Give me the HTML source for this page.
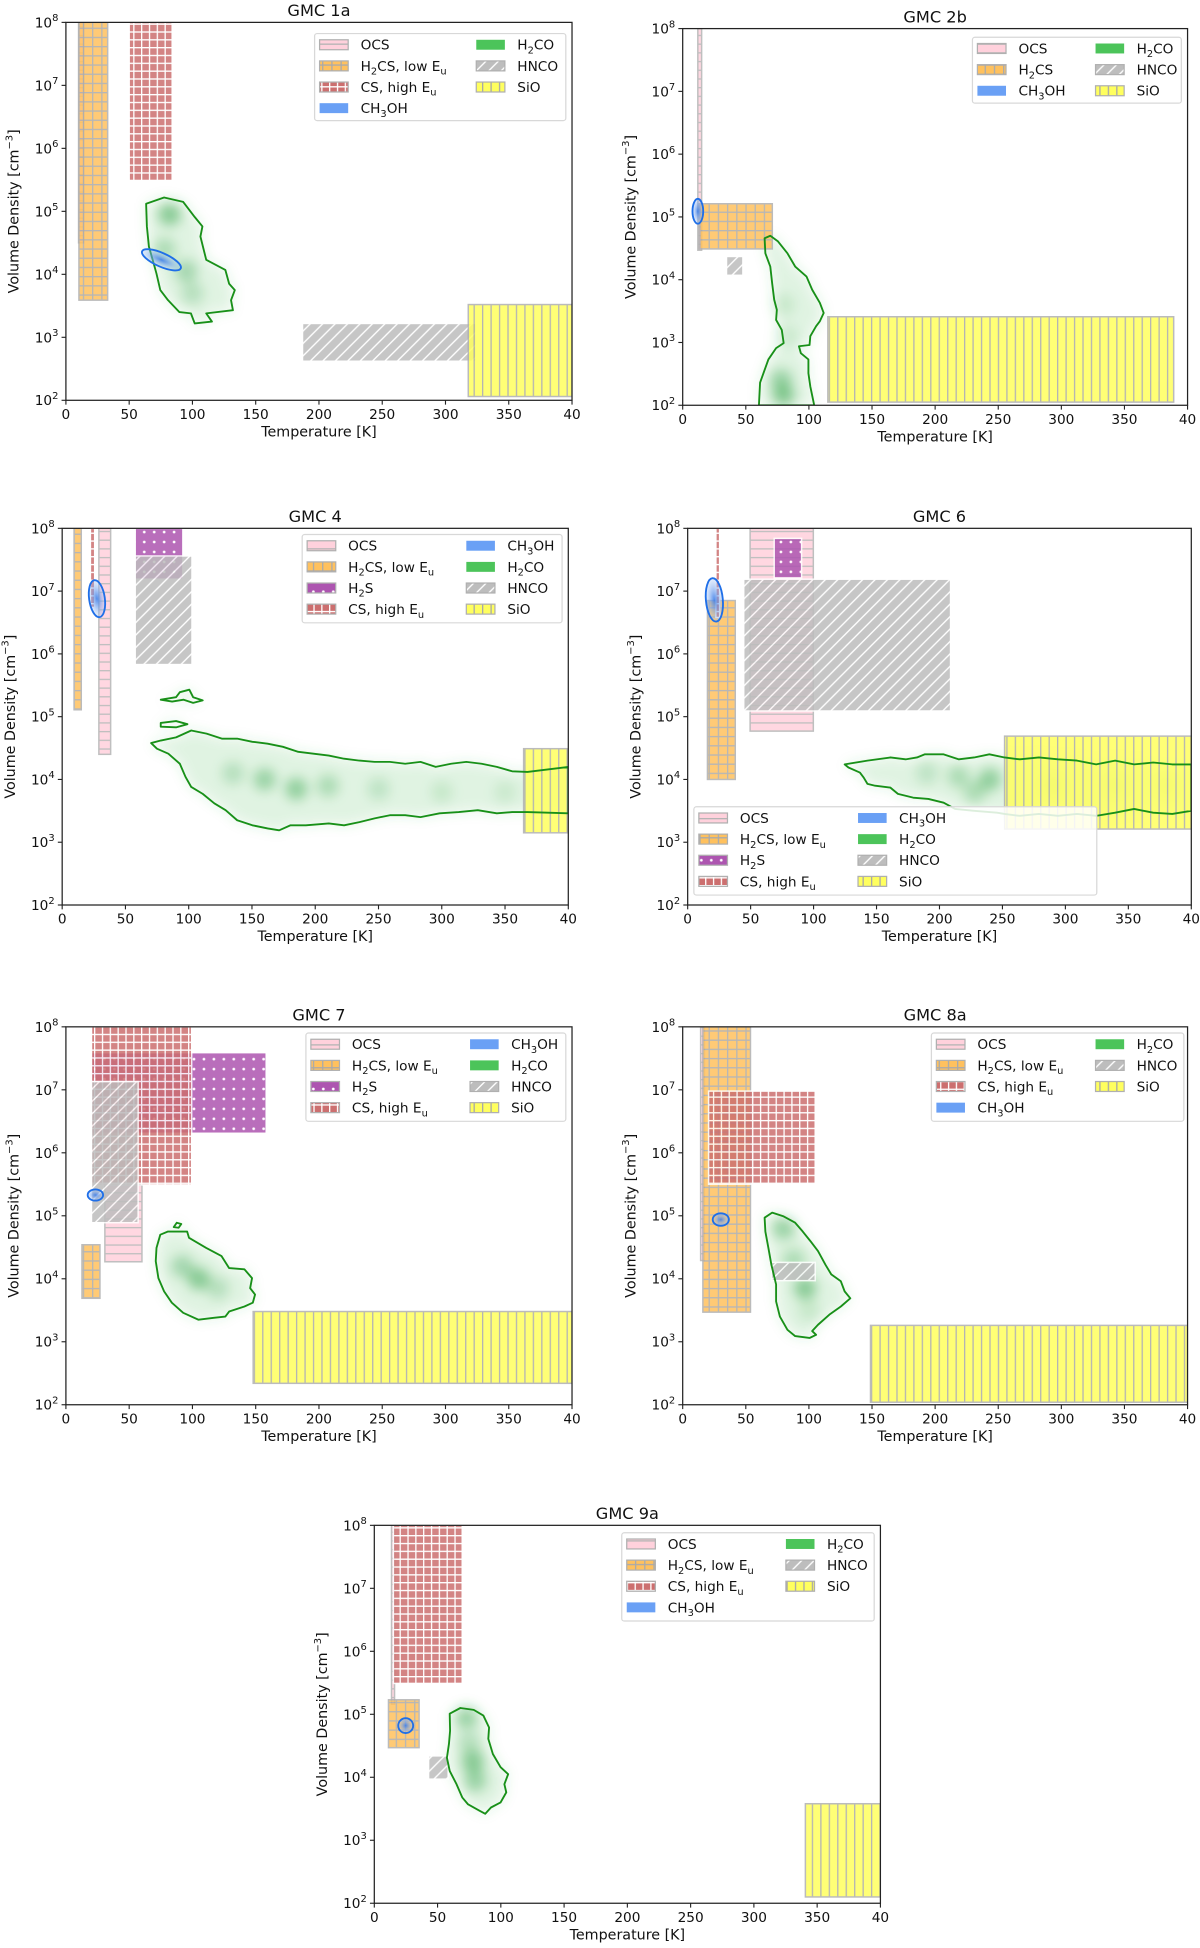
<!DOCTYPE html>
<html><head><meta charset="utf-8"><style>
html,body{margin:0;padding:0;background:#fff;}
svg{display:block;font-family:"DejaVu Sans","Liberation Sans",sans-serif;}
</style></head><body>
<svg id="fig" xmlns="http://www.w3.org/2000/svg" width="1200" height="1948" viewBox="0 0 965 1567" preserveAspectRatio="none">
<defs>
<pattern id="pOCS" width="7" height="7" patternUnits="userSpaceOnUse"><rect width="7" height="7" fill="#ffd1dc"/><path d="M0 0.5H7" stroke="#b4b4b4" stroke-width="1.1"/></pattern>
<pattern id="pH2CS" width="7.4" height="7.4" patternUnits="userSpaceOnUse"><rect width="7.4" height="7.4" fill="#ffc15e"/><path d="M0 0.5H7.4M0.5 0V7.4" stroke="#aaaaaa" stroke-width="1.1"/></pattern>
<pattern id="pCS" width="6.3" height="6.3" patternUnits="userSpaceOnUse"><rect width="6.3" height="6.3" fill="#cc6f6f"/><path d="M0 0.5H6.3M0.5 0V6.3" stroke="#ffffff" stroke-width="1.1"/></pattern>
<pattern id="pH2S" width="8" height="8" patternUnits="userSpaceOnUse"><rect width="8" height="8" fill="#ad55b0"/><circle cx="4" cy="4" r="1.1" fill="#fff"/></pattern>
<pattern id="pHNCO" width="10" height="10" patternUnits="userSpaceOnUse"><rect width="10" height="10" fill="#bdbdbd"/><path d="M-2 12L12 -2M-2 2L2 -2M8 12L12 8" stroke="#fff" stroke-width="1.1"/></pattern>
<pattern id="pSiO" width="6.8" height="6.8" patternUnits="userSpaceOnUse"><rect width="6.8" height="6.8" fill="#ffff5e"/><path d="M0.5 0V6.8" stroke="#a8a8a8" stroke-width="1.1"/></pattern>
<radialGradient id="gBlue"><stop offset="0" stop-color="#3f7fe8" stop-opacity="0.9"/><stop offset="1" stop-color="#9fc0f5" stop-opacity="0.25"/></radialGradient>
<filter id="blur3" x="-50%" y="-50%" width="200%" height="200%"><feGaussianBlur stdDeviation="3"/></filter>
<filter id="blur6" x="-100%" y="-100%" width="300%" height="300%"><feGaussianBlur stdDeviation="5"/></filter>
</defs>
</svg>
<script>
// ---------- DATA (T [K], log10 n [cm^-3]) ----------
const gmc1aRects = [['OCS',10,14,4.5,8],['H2CS',10.3,33,3.59,8],['CS',50,84,5.49,8],['HNCO',187,324,2.62,3.22],['SiO',318,400,2.06,3.52]];
const gmc1aContours = [[[63.4,5.12],[77.6,5.22],[92.7,5.15],[101.8,4.91],[107.9,4.76],[106.3,4.6],[110.9,4.23],[126,4.07],[129,3.85],[133.5,3.75],[130.5,3.59],[132,3.43],[110.9,3.38],[115.4,3.25],[101.8,3.22],[98.8,3.38],[89.7,3.4],[80.7,3.59],[74.6,3.75],[71.6,4.01],[68.6,4.23],[65.6,4.44],[64,4.76]]];
const gmc1aPeaks = [[82,4.95,1],[95,4.05,0.7],[78,4.4,0.6],[100,3.7,0.5]];
const gmc1aMethanol = [75.5,4.23,17,5.5,24];

const gmc2bRects = [['OCS',12,15,4.47,8],['H2CS',13,71,4.49,5.21],['HNCO',34.7,47.7,4.07,4.37],['SiO',115,389,2.05,3.41]];
const gmc2bContours = [[[64.9,4.66],[69.4,4.7],[75.5,4.61],[83,4.42],[89.1,4.21],[98.1,4.05],[102.6,3.84],[108.7,3.63],[111.7,3.47],[108.7,3.34],[105.7,3.26],[101.1,3.1],[100.5,2.96],[92.1,2.94],[93.6,2.83],[99.6,2.73],[99.6,2.51],[101.1,2.3],[104.2,2.0],[60.4,2.0],[61.3,2.36],[67.9,2.73],[74,2.91],[80,2.99],[78.5,3.2],[74,3.36],[74.6,3.52],[72.5,3.68],[70.9,3.94],[69.4,4.21],[65.5,4.42]]];
const gmc2bPeaks = [[80,2.15,1],[78,2.4,0.8],[80,3.6,0.3],[82,3.1,0.3]];
const gmc2bMethanol = [12,5.09,4.3,10,0];

const gmc4Rects = [['H2CS',9.4,15.1,5.11,8],['OCS',29,38.3,4.4,8],['CS',22.3,25.7,6.74,8],['H2S',57.7,95.4,7.19,8],['HNCO',57.7,102.6,5.83,7.56],['SiO',364.7,400,3.15,4.49]];
const gmc4Contours = [
 [[70.3,4.58],[77.9,4.62],[90,4.67],[102,4.78],[114.1,4.73],[126.2,4.65],[138.3,4.65],[150.3,4.6],[162.4,4.57],[174.5,4.52],[186.6,4.44],[198.6,4.41],[210.7,4.38],[222.8,4.33],[234.9,4.3],[246.9,4.28],[259,4.28],[271.1,4.25],[283.2,4.28],[295.2,4.2],[307.3,4.25],[319.4,4.28],[331.5,4.25],[343.5,4.2],[355.6,4.13],[367.7,4.12],[400,4.2],[400,3.46],[367.7,3.48],[355.6,3.48],[343.5,3.46],[328.5,3.51],[313.4,3.48],[298.3,3.46],[283.2,3.4],[271.1,3.43],[259,3.43],[246.9,3.38],[234.9,3.32],[222.8,3.27],[210.7,3.3],[192.6,3.27],[180.5,3.27],[171.5,3.19],[162.4,3.22],[150.3,3.27],[138.3,3.35],[129.2,3.51],[120.2,3.62],[111.1,3.77],[102,3.88],[97.5,4.04],[93,4.25],[83.9,4.41],[74.9,4.49]],
 [[77.9,5.27],[90,5.31],[93,5.39],[100.5,5.43],[103.5,5.31],[111.1,5.26],[103.5,5.22],[96,5.27],[86.9,5.24]],
 [[77.9,4.9],[90,4.93],[99,4.88],[90,4.83],[77.9,4.84]]];
const gmc4Peaks = [[160,4.0,0.8],[185,3.85,0.9],[210,3.9,0.6],[250,3.85,0.4],[135,4.1,0.5],[300,3.8,0.3],[350,3.8,0.25]];
const gmc4Methanol = [27.5,6.88,6.3,15,-8];

const gmc6Rects = [['OCS',49.6,99.8,4.77,8],['H2CS',15.7,37.8,4.0,6.85],['CS',22.4,25.4,6.58,8],['H2S',68.7,90.5,7.21,7.84],['HNCO',44.5,208.8,5.09,7.19],['SiO',251.7,400,3.21,4.69]];
const gmc6Contours = [[[124.7,4.24],[142.8,4.3],[161,4.35],[173.1,4.32],[182.1,4.35],[188.2,4.4],[203.3,4.4],[215.4,4.32],[227.5,4.35],[239.6,4.4],[251.7,4.35],[263.8,4.32],[279,4.35],[294.1,4.32],[309.2,4.3],[324.4,4.24],[339.5,4.3],[354.6,4.24],[369.7,4.27],[384.9,4.24],[400,4.24],[400,3.5],[384.9,3.45],[369.7,3.47],[354.6,3.53],[339.5,3.47],[324.4,3.42],[309.2,3.45],[294.1,3.42],[279,3.45],[263.8,3.42],[251.7,3.45],[245.7,3.47],[227.5,3.5],[212.4,3.53],[203.3,3.63],[191.2,3.69],[179.1,3.71],[167,3.77],[161,3.87],[148.9,3.9],[142.8,3.93],[139.8,4.03],[136.8,4.11],[127.7,4.19]]];
const gmc6Peaks = [[240,4.0,0.9],[215,4.05,0.6],[228,3.8,0.6],[190,4.1,0.4],[290,3.9,0.4],[340,3.9,0.35],[380,3.9,0.3]];
const gmc6Methanol = [21.2,6.86,6.8,17.5,-5];

const gmc7Rects = [['H2CS',12.7,26.9,3.69,4.54],['OCS',30.8,60.1,4.27,5.49],['H2S',20.2,158.3,6.31,7.59],['CS',20.2,99.4,5.49,8],['HNCO',20.2,57.1,4.89,7.13],['SiO',148,400,2.34,3.48]];
const gmc7Contours = [
 [[74.6,4.7],[80.7,4.75],[95.8,4.75],[97.3,4.65],[110.9,4.49],[123,4.36],[129,4.17],[141.1,4.15],[147.1,4.01],[145.6,3.85],[149.5,3.75],[147.7,3.62],[141.1,3.56],[129,3.48],[126,3.4],[116.9,3.38],[104.8,3.35],[92.7,3.46],[83.7,3.62],[77.6,3.8],[73.1,4.01],[71,4.28],[71.6,4.49]],
 [[85.2,4.82],[87.6,4.89],[91.2,4.87],[89.1,4.81]]];
const gmc7Peaks = [[105,4.0,1],[92,4.2,0.7],[120,3.85,0.5]];
const gmc7Methanol = [23.3,5.33,6.2,4.5,0];

const gmc8aRects = [['OCS',14.2,17.2,4.29,8],['H2CS',16,53.7,3.47,8],['CS',20.5,105,5.5,6.98],['HNCO',70.3,105,3.97,4.26],['SiO',148.8,400,2.04,3.26]];
const gmc8aContours = [[[64.9,4.97],[70.9,5.05],[80,4.99],[89.1,4.89],[95.1,4.75],[101.1,4.6],[107.2,4.44],[113.2,4.22],[117.7,4.07],[125.3,3.96],[128.3,3.8],[132.8,3.69],[125.3,3.56],[116.2,3.43],[107.2,3.27],[102.6,3.17],[105.7,3.11],[100.5,3.06],[89.1,3.09],[83,3.19],[77,3.4],[74,3.64],[74,3.91],[70.3,4.22],[67.9,4.49],[65.5,4.75]]];
const gmc8aPeaks = [[80,4.8,0.8],[97,3.85,1],[88,4.3,0.6],[100,3.5,0.3]];
const gmc8aMethanol = [30.2,4.94,6.5,5,0];

const gmc9aRects = [['OCS',13.6,16,5.16,8],['CS',15.1,69.5,5.49,8],['H2CS',11.2,35.4,4.47,5.23],['HNCO',42.9,58.4,3.97,4.34],['SiO',340.7,400,2.1,3.58]];
const gmc9aContours = [[[59.6,5.01],[68,5.1],[78.6,5.07],[86.2,4.98],[90.7,4.79],[90.1,4.61],[93.7,4.37],[99.8,4.16],[105.8,4.05],[102.8,3.89],[104.3,3.76],[99.8,3.6],[92.2,3.52],[87.7,3.42],[83.1,3.47],[74.1,3.57],[69.5,3.68],[65,3.89],[59.6,4.1],[57.4,4.31],[59,4.53],[59.9,4.74]]];
const gmc9aPeaks = [[73,4.95,0.8],[78,4.25,1],[80,3.95,0.8],[75,4.55,0.5]];
const gmc9aMethanol = [24.8,4.82,6,6,0];

const xTickValues = [0,50,100,150,200,250,300,350,400];
const xTickLabels = ['0','50','100','150','200','250','300','350','40'];
const yTickExponents = [2,3,4,5,6,7,8];

const legendFull = [['OCS','H2CS','CS','CH3OH'],['H2CO','HNCO','SiO']];
const legend2b = [['OCS','H2CSplain','CH3OH'],['H2CO','HNCO','SiO']];
const legendH2S = [['OCS','H2CS','H2S','CS'],['CH3OH','H2CO','HNCO','SiO']];

// ---------- STYLE ----------
const FILL = {OCS:'url(#pOCS)',H2CS:'url(#pH2CS)',H2CSplain:'url(#pH2CS)',CS:'url(#pCS)',H2S:'url(#pH2S)',HNCO:'url(#pHNCO)',SiO:'url(#pSiO)',CH3OH:'#6aa0f5',H2CO:'#4cc45a'};
const EDGE = {OCS:'#b4b4b4',H2CS:'#b0b0b0',H2CSplain:'#b0b0b0',CS:'#ffffff',H2S:'#ffffff',HNCO:'#ffffff',SiO:'#b0b0b0',CH3OH:'none',H2CO:'none'};
const LABEL = {OCS:'OCS',H2CS:'H_2CS, low E_u',H2CSplain:'H_2CS',CS:'CS, high E_u',H2S:'H_2S',HNCO:'HNCO',SiO:'SiO',CH3OH:'CH_3OH',H2CO:'H_2CO'};

const panels = [
 {id:'gmc-1a',title:'GMC 1a',x0:53,x1:460,yt:18,yb:322,rects:gmc1aRects,contours:gmc1aContours,peaks:gmc1aPeaks,meth:gmc1aMethanol,legend:legendFull,lg:{x:253,y:27,w:202,h:70,c2:383}},
 {id:'gmc-2b',title:'GMC 2b',x0:549,x1:955,yt:23,yb:326,rects:gmc2bRects,contours:gmc2bContours,peaks:gmc2bPeaks,meth:gmc2bMethanol,legend:legend2b,lg:{x:782,y:30,w:168,h:53,c2:881}},
 {id:'gmc-4',title:'GMC 4',x0:50,x1:457,yt:425,yb:728,rects:gmc4Rects,contours:gmc4Contours,peaks:gmc4Peaks,meth:gmc4Methanol,legend:legendH2S,lg:{x:243,y:430,w:209,h:71,c2:375}},
 {id:'gmc-6',title:'GMC 6',x0:553,x1:958,yt:425,yb:728,rects:gmc6Rects,contours:gmc6Contours,peaks:gmc6Peaks,meth:gmc6Methanol,legend:legendH2S,lg:{x:558,y:649,w:324,h:71,c2:690}},
 {id:'gmc-7',title:'GMC 7',x0:53,x1:460,yt:826,yb:1130,rects:gmc7Rects,contours:gmc7Contours,peaks:gmc7Peaks,meth:gmc7Methanol,legend:legendH2S,lg:{x:246,y:831,w:209,h:71,c2:378}},
 {id:'gmc-8a',title:'GMC 8a',x0:549,x1:955,yt:826,yb:1130,rects:gmc8aRects,contours:gmc8aContours,peaks:gmc8aPeaks,meth:gmc8aMethanol,legend:legendFull,lg:{x:749,y:831,w:203,h:71,c2:881}},
 {id:'gmc-9a',title:'GMC 9a',x0:301,x1:708,yt:1227,yb:1531,rects:gmc9aRects,contours:gmc9aContours,peaks:gmc9aPeaks,meth:gmc9aMethanol,legend:legendFull,lg:{x:500,y:1233,w:203,h:71,c2:632}}
];

const NS='http://www.w3.org/2000/svg';
const svg=document.getElementById('fig');
function mk(tag,attrs,parent){const e=document.createElementNS(NS,tag);for(const k in attrs)e.setAttribute(k,attrs[k]);if(parent)parent.appendChild(e);return e;}
function richText(parent,str,x,y,size,anchor){
  const t=mk('text',{x:x,y:y,'font-size':size,fill:'#111','text-anchor':anchor||'start'},parent);
  const parts=str.split(/(_.)/);
  let shifted=false;
  parts.forEach(p=>{if(!p)return;
    if(p[0]==='_'&&p.length===2){const s=mk('tspan',{'font-size':size*0.72,dy:3},t);s.textContent=p[1];shifted=true;}
    else{const s=mk('tspan',shifted?{dy:-3}:{},t);s.textContent=p;shifted=false;}});
  return t;
}

panels.forEach((p,pi)=>{
  const sx=T=>p.x0+T/400*(p.x1-p.x0);
  const sy=l=>p.yb-(l-2)/6*(p.yb-p.yt);
  const g=mk('g',{},svg);
  
  
  const cid='clip'+pi;
  const cp=mk('clipPath',{id:cid},g);mk('rect',{x:p.x0,y:p.yt,width:p.x1-p.x0,height:p.yb-p.yt},cp);
  const plot=mk('g',{'clip-path':'url(#'+cid+')'},g);
  
  
  const glow=mk('g',{filter:'url(#blur6)'},plot);
  p.contours.forEach(c=>{
    const poly=mk('polygon',{points:c.map(q=>sx(q[0])+','+sy(q[1])).join(' '),fill:'#3cb44b','fill-opacity':0.16},glow);
    
    
  });
  p.peaks.forEach(k=>{
    const c=mk('circle',{cx:sx(k[0]),cy:sy(k[1]),r:9,fill:'#1f9a35','fill-opacity':0.45*k[2]},glow);
    
    
  });
  p.rects.forEach(r=>{
    const x=sx(r[1]),w=sx(r[2])-x,y=sy(r[4]),h=sy(r[3])-y;
    const e=mk('rect',{x:x,y:y,width:w,height:h,fill:FILL[r[0]],stroke:EDGE[r[0]],'stroke-width':1.2,opacity:0.85},plot);
    
    
  });
  p.contours.forEach(c=>{
    const poly=mk('polygon',{points:c.map(q=>sx(q[0])+','+sy(q[1])).join(' '),fill:'none',stroke:'#189018','stroke-width':1.5,'stroke-linejoin':'round'},plot);
    
    
  });
  const m=p.meth;
  const el=mk('ellipse',{cx:sx(m[0]),cy:sy(m[1]),rx:m[2],ry:m[3],fill:'url(#gBlue)',stroke:'#1f6fe8','stroke-width':1.5,transform:'rotate('+m[4]+' '+sx(m[0])+' '+sy(m[1])+')'},plot);
  
  
  const fr=mk('rect',{x:p.x0,y:p.yt,width:p.x1-p.x0,height:p.yb-p.yt,fill:'none',stroke:'#222','stroke-width':1},g);
  
  
  xTickValues.forEach((v,i)=>{
    const x=sx(v);
    mk('line',{x1:x,x2:x,y1:p.yb,y2:p.yb+3.5,stroke:'#222','stroke-width':0.9},g);
    const t=mk('text',{x:x,y:p.yb+15,'font-size':11,'text-anchor':'middle',fill:'#111'},g);
    t.textContent=xTickLabels[i];
    
    
  });
  yTickExponents.forEach(v=>{
    const y=sy(v);
    mk('line',{x1:p.x0-3.5,x2:p.x0,y1:y,y2:y,stroke:'#222','stroke-width':0.9},g);
    const t=mk('text',{x:p.x0-6,y:y+4,'font-size':11,'text-anchor':'end',fill:'#111'},g);
    const a=mk('tspan',{},t);a.textContent='10';
    const b=mk('tspan',{'font-size':8,dy:-5},t);b.textContent=String(v);
    
    
  });
  const xl=mk('text',{x:(p.x0+p.x1)/2,y:p.yb+29,'font-size':11.5,'text-anchor':'middle',fill:'#111'},g);
  xl.textContent='Temperature [K]';
  
  
  const cy=(p.yt+p.yb)/2, cx=p.x0-38;
  const yl=mk('text',{x:cx,y:cy,'font-size':11.5,'text-anchor':'middle',fill:'#111',transform:'rotate(-90 '+cx+' '+cy+')'},g);
  const y1=mk('tspan',{},yl);y1.textContent='Volume Density [cm';
  const y2=mk('tspan',{'font-size':8,dy:-5},yl);y2.textContent='\u22123';
  const y3=mk('tspan',{dy:5},yl);y3.textContent=']';
  
  
  const ti=mk('text',{x:(p.x0+p.x1)/2,y:p.yt-5,'font-size':13,'text-anchor':'middle',fill:'#111'},g);
  ti.textContent=p.title;
  
  
  const L=p.lg;
  const lg=mk('g',{},g);
  
  
  mk('rect',{x:L.x,y:L.y,width:L.w,height:L.h,rx:2,fill:'#fff','fill-opacity':0.85,stroke:'#d8d8d8','stroke-width':1},lg);
  p.legend.forEach((col,ci)=>{
    const swx=ci===0?L.x+4:L.c2;
    col.forEach((key,ri)=>{
      const ry=L.y+8+ri*17;
      const eg=mk('g',{},lg);
      
      
      mk('rect',{x:swx,y:ry-3,width:23,height:8,fill:FILL[key],stroke:EDGE[key]==='none'?'none':'#b0b0b0','stroke-width':1},eg);
      richText(eg,LABEL[key],swx+33,ry+5,11);
    });
  });
});
</script>
</body></html>
